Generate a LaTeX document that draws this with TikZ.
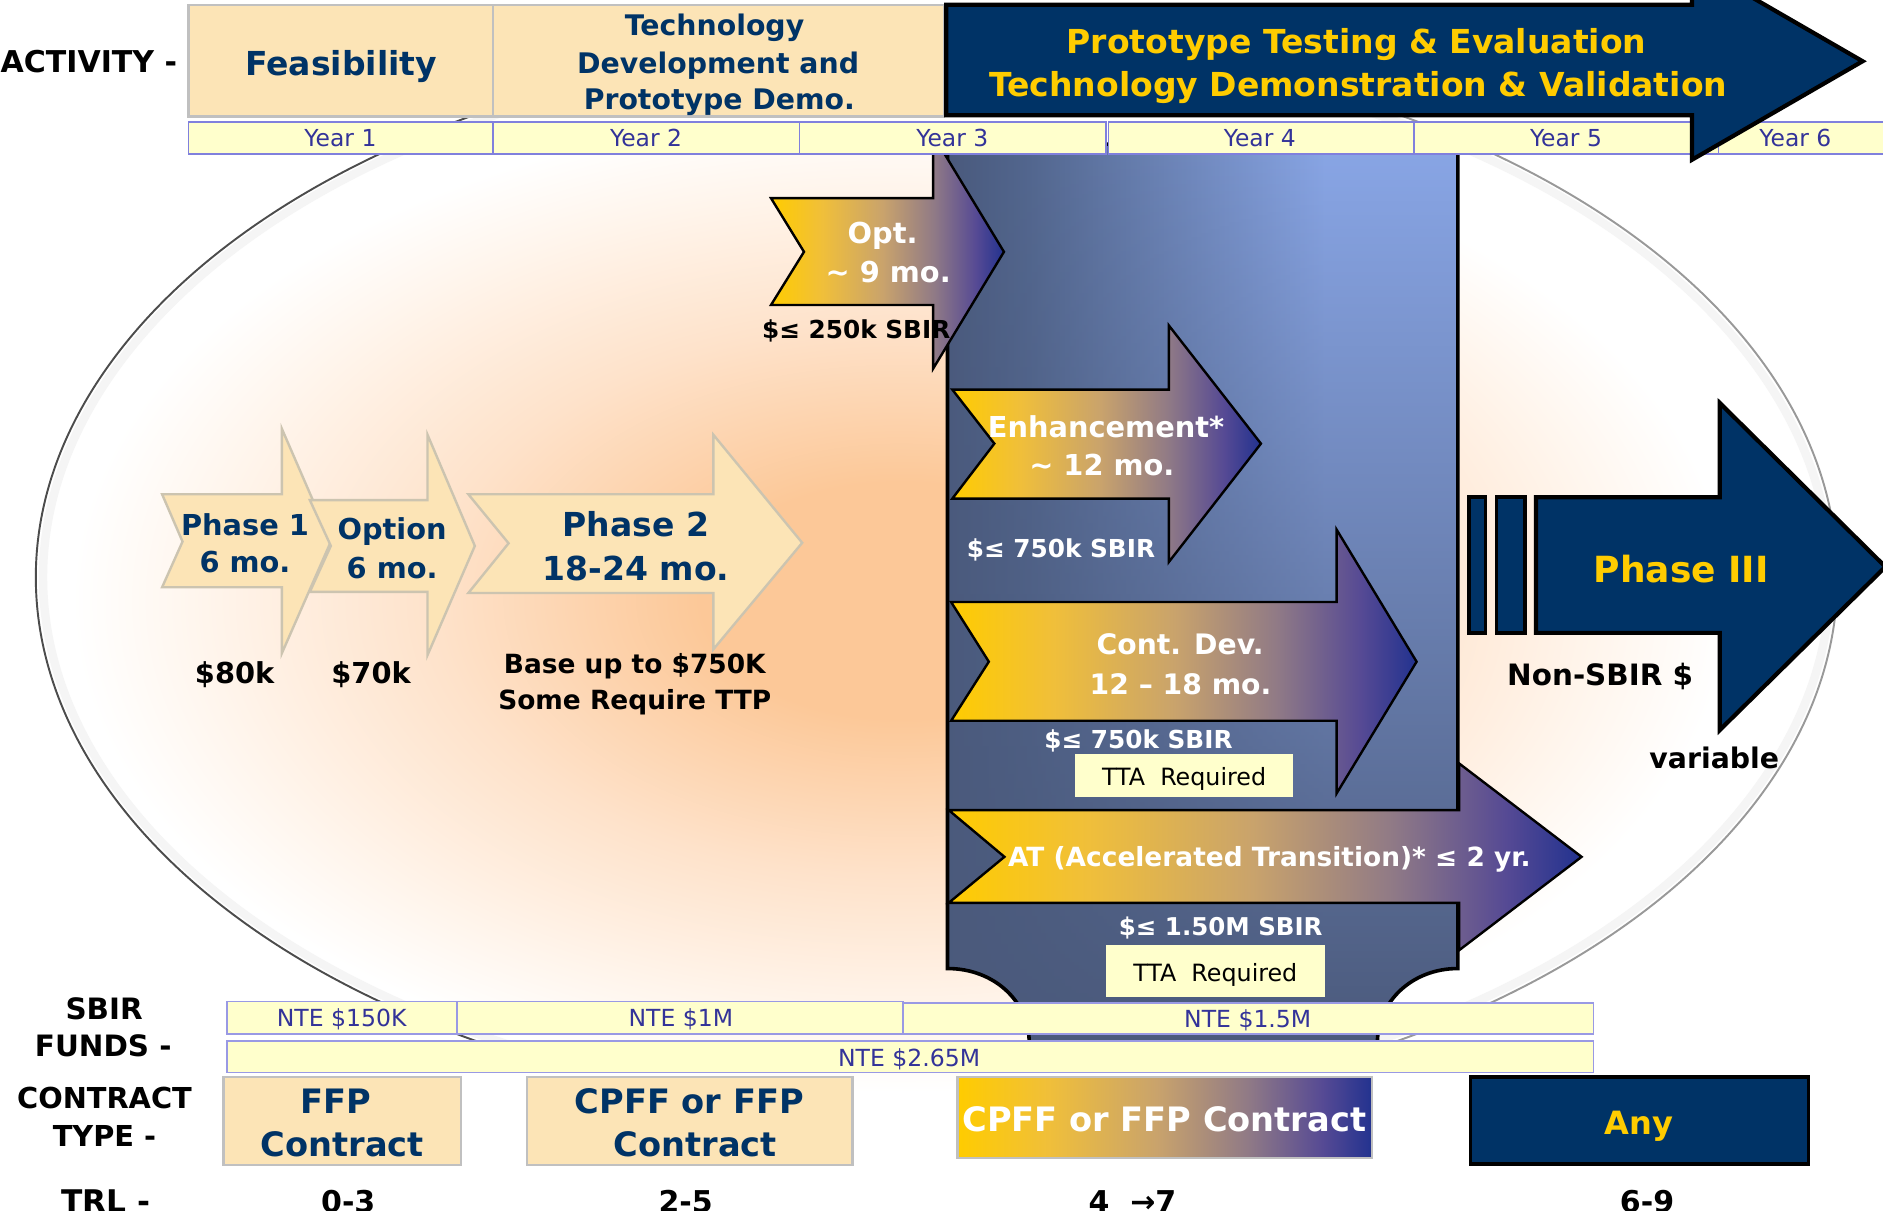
\documentclass[tikz,border=0pt]{standalone}
\usepackage{fontspec}
\setmainfont{DejaVu Sans}
\usetikzlibrary{fadings}
\definecolor{navy}{HTML}{003366}
\definecolor{gold}{HTML}{FFCC00}
\definecolor{tanf}{HTML}{FCE4B6}
\definecolor{tanline}{HTML}{CCC4B0}
\definecolor{hdrline}{HTML}{C0C0C0}
\definecolor{lyel}{HTML}{FFFFCC}
\definecolor{yline}{HTML}{8080DD}
\definecolor{ytext}{HTML}{333399}
\definecolor{boxL}{HTML}{4A5A7D}
\definecolor{boxLL}{HTML}{53678F}
\definecolor{boxR}{HTML}{89A6E6}
\definecolor{boxD}{HTML}{4B5A7C}
\definecolor{glowA}{HTML}{FCC898}
\definecolor{glowB}{HTML}{FEE2CA}
\definecolor{glowC}{HTML}{FFF5EC}
\definecolor{gnA}{HTML}{FFCC00}
\definecolor{gnB}{HTML}{F0BF3A}
\definecolor{gnC}{HTML}{C9A36C}
\definecolor{gnD}{HTML}{907A86}
\definecolor{gnE}{HTML}{564A94}
\definecolor{gnF}{HTML}{22328F}
\pgfdeclarehorizontalshading{goldnavy}{100bp}{color(0bp)=(gnA); color(25bp)=(gnA); color(36bp)=(gnB); color(49bp)=(gnC); color(60bp)=(gnD); color(69bp)=(gnE); color(75bp)=(gnF); color(100bp)=(gnF)}
\pgfdeclarehorizontalshading{boxsh}{100bp}{color(0bp)=(boxL); color(25bp)=(boxL); color(33bp)=(boxLL); color(62bp)=(boxR); color(75bp)=(boxR); color(100bp)=(boxR)}
\pgfdeclareradialshading{glow}{\pgfpoint{0bp}{0bp}}{color(0bp)=(glowA); color(6bp)=(glowA); color(14bp)=(glowB); color(21bp)=(glowC); color(25bp)=(white); color(50bp)=(white)}
\newcommand\cboxpath{(789,120) -- (1214,120) -- (1214,806.5) .. controls (1176,806.5) and (1147,834) .. (1147,868) -- (857,868) .. controls (857,834) and (828,806.5) .. (789,806.5) -- cycle}
\begin{document}
\begin{tikzpicture}[x=1pt,y=-1pt,
  tb/.style={font=\bfseries\fontsize{#1}{#1}\selectfont, inner sep=0pt, anchor=base},
  tr/.style={font=\fontsize{#1}{#1}\selectfont, inner sep=0pt, anchor=base},
  tanarrow/.style={fill=tanf, draw=tanline, line width=2pt, line join=miter},
  gradarrow/.style={shade, shading=goldnavy, draw=black, line width=2pt, line join=miter},
  navyshape/.style={fill=navy, draw=black, line width=3.5pt, line join=miter},
  yearcell/.style={fill=lyel, draw=yline, line width=1.5pt},
  ntecell/.style={fill=lyel, draw=yline!80, line width=1.3pt},
  hdrbox/.style={fill=tanf, draw=hdrline, line width=2pt},
  ttabox/.style={fill=lyel},
  rim/.style={line width=1.6pt},
]
\useasboundingbox (0,0) rectangle (1568,1008);
\clip (0,0) rectangle (1568,1008);
\fill[white] (0,0) rectangle (1568,1008);

% ellipse glow
\begin{scope}
  \clip (780,481) ellipse (750 and 449);
  \shade[shading=glow] (750,500) ellipse (690 and 410);
\end{scope}
% ellipse rim: soft inner band, darker left arc, lighter right arc
\draw[black!4, line width=7pt] (780,481) ++(115:744 and 443) arc[start angle=115, end angle=425, x radius=744, y radius=443];
\draw[rim, black!70] (780,481) ++(115:750 and 449) arc[start angle=115, end angle=265, x radius=750, y radius=449];
\draw[rim, black!40] (780,481) ++(265:750 and 449) arc[start angle=265, end angle=425, x radius=750, y radius=449];

% left arrows
\draw[tanarrow] (135,411.6) -- (234.7,411.6) -- (234.7,357) -- (275.5,451) -- (234.7,544) -- (234.7,489) -- (135,489) -- (152,451) -- cycle;
\draw[tanarrow] (258,416.4) -- (356,416.4) -- (356,362) -- (395.4,454.6) -- (356,545.5) -- (356,492.9) -- (258,492.9) -- (275.5,454.6) -- cycle;
\draw[tanarrow] (390,411.6) -- (594,411.6) -- (594,362) -- (668,452) -- (594,540.7) -- (594,493.8) -- (390,493.8) -- (423.5,452.4) -- cycle;
\node[tb=24, text=navy] (p1a) at (204,446) {Phase 1};
\node[tb=24, text=navy] (p1b) at (204,477) {6 mo.};
\node[tb=24, text=navy] (opa) at (326.5,449) {Option};
\node[tb=24, text=navy] (opb) at (326.5,481.5) {6 mo.};
\node[tb=27.5, text=navy] (p2a) at (529.6,446.5) {Phase 2};
\node[tb=27.5, text=navy] (p2b) at (529.6,483) {18-24 mo.};
\node[tb=24] (c80) at (195.4,569) {\$80k};
\node[tb=24] (c70) at (309,569) {\$70k};
\node[tb=22] (basea) at (528.6,560.5) {Base up to \$750K};
\node[tb=22] (baseb) at (528.6,591) {Some Require TTP};

% central box
\path[shading=boxsh, shade] \cboxpath;
\fill[boxD, path fading=north] \cboxpath;
\draw[black, line width=3pt] \cboxpath;

% gradient arrows
\path[gradarrow] (642,165) -- (777,165) -- (777,112.5) -- (836,209.7) -- (777,307) -- (777,254) -- (642,254) -- (669.5,209.7) -- cycle;
\path[gradarrow] (793,324.4) -- (973.3,324.4) -- (973.3,271) -- (1050,369.4) -- (973.3,468) -- (973.3,415.2) -- (793,415.2) -- (828,369.4) -- cycle;
\path[gradarrow] (792,501.3) -- (1113,501.3) -- (1113,441) -- (1179.6,551) -- (1113,660.7) -- (1113,600.2) -- (792,600.2) -- (823.4,551) -- cycle;
\path[gradarrow] (790,674.6) -- (1215,674.6) -- (1215,635.7) -- (1317,713.5) -- (1215,791.3) -- (1215,751.8) -- (790,751.8) -- (836.4,713.5) -- cycle;

\node[tb=24, text=white] (opta) at (735,203) {Opt.};
\node[tb=24, text=white] (optb) at (739.6,235) {\textasciitilde\ 9 mo.};
\node[tb=20.6] (optc) at (713,282) {\$≤ 250k SBIR};
\node[tb=24, text=white] (enha) at (921,364) {Enhancement*};
\node[tb=24, text=white] (enhb) at (917.5,396) {\textasciitilde\ 12 mo.};
\node[tb=20.6, text=white] (enhc) at (883.5,464) {\$≤ 750k SBIR};
\node[tb=23.5, text=white] (cda) at (982.7,545) {Cont. Dev.};
\node[tb=23.5, text=white] (cdb) at (983,578) {12 – 18 mo.};
\node[tb=20.6, text=white] (cdc) at (948,623) {\$≤ 750k SBIR};
\fill[ttabox] (895,628) rectangle (1077,663.5);
\node[tr=19.8] (tta1) at (986,653.8) {TTA~~Required};
\node[tb=22, text=white] (ata) at (1057,721.8) {AT (Accelerated Transition)* ≤ 2 yr.};
\node[tb=20.4, text=white] (atb) at (1016.5,779) {\$≤ 1.50M SBIR};
\fill[ttabox] (921,787) rectangle (1103,830);
\node[tr=19.8] (tta2) at (1012,817.6) {TTA~~Required};

% Phase III
\path[navyshape, line width=3pt] (1223,414) rectangle (1237,527);
\path[navyshape, line width=3pt] (1246,414) rectangle (1270,527);
\path[navyshape] (1279,414) -- (1432,414) -- (1432,335.5) -- (1570,472) -- (1432,608) -- (1432,527) -- (1279,527) -- cycle;
\node[tb=30, text=gold] (ph3) at (1400,485) {Phase III};
\node[tb=24.5] (nsb) at (1332.5,571) {Non-SBIR \$};
\node[tb=23.6] (var) at (1427.5,640) {variable};

% header
\path[hdrbox] (157,4) rectangle (410.7,97);
\path[hdrbox] (410.7,4) rectangle (786,97);
\node[tb=25] (act) at (74,60) {ACTIVITY -};
\node[tb=27.5, text=navy] (feas) at (284,63) {Feasibility};
\node[tb=23.6, text=navy] (tda) at (595,29.5) {Technology};
\node[tb=23.6, text=navy] (tdb) at (598,61.5) {Development and};
\node[tb=23.6, text=navy] (tdc) at (599,91.5) {Prototype Demo.};

\path[yearcell] (157,101.4) rectangle (410.7,128.3);
\path[yearcell] (410.7,101.4) rectangle (665.8,128.3);
\path[yearcell] (665.8,101.4) rectangle (921,128.3);
\path[yearcell] (923,101.4) rectangle (1177.4,128.3);
\path[yearcell] (1177.4,101.4) rectangle (1431,128.3);
\path[yearcell] (1431,101.4) rectangle (1580,128.3);
\node[tr=19.5, text=ytext] (y1) at (283.5,122.2) {Year 1};
\node[tr=19.5, text=ytext] (y2) at (538,122.2) {Year 2};
\node[tr=19.5, text=ytext] (y3) at (793,122.2) {Year 3};
\node[tr=19.5, text=ytext] (y4) at (1049,122.2) {Year 4};
\node[tr=19.5, text=ytext] (y5) at (1304,122.2) {Year 5};
\node[tr=19.5, text=ytext] (y6) at (1495,122.2) {Year 6};

\path[navyshape] (788,4) -- (1409,4) -- (1409,-31) -- (1551,51) -- (1409,133) -- (1409,96) -- (788,96) -- cycle;
\node[tb=27.5, text=gold] (pta) at (1129.6,44.5) {Prototype Testing \& Evaluation};
\node[tb=27.5, text=gold] (ptb) at (1131,80.5) {Technology Demonstration \& Validation};

% SBIR funds
\path[ntecell] (189,834) rectangle (380,861);
\path[ntecell] (381,834) rectangle (752,861);
\path[ntecell] (752,835) rectangle (1327,861);
\path[ntecell] (189,866.7) rectangle (1327,893);
\node[tr=19.6, text=ytext] (nte1) at (284.5,855) {NTE \$150K};
\node[tr=19.6, text=ytext] (nte2) at (567,855) {NTE \$1M};
\node[tr=19.6, text=ytext] (nte3) at (1039,856) {NTE \$1.5M};
\node[tr=19.6, text=ytext] (nte4) at (757,888) {NTE \$2.65M};
\node[tb=24.5] (sbir) at (86.7,849) {SBIR};
\node[tb=24.5] (funds) at (86,880) {FUNDS -};

% contract type
\node[tb=24] (ctra) at (87,923) {CONTRACT};
\node[tb=24] (ctrb) at (87,955) {TYPE -};
\path[hdrbox] (186,897) rectangle (383.7,970);
\path[hdrbox] (438.8,897) rectangle (710,970);
\path[shade, shading=goldnavy, draw=hdrline, line width=2pt] (797.4,897) rectangle (1142.7,964.4);
\path[navyshape, line width=3pt] (1224.5,896.7) rectangle (1506,969.4);
\node[tb=28, text=navy] (ffpa) at (280,927) {FFP};
\node[tb=28, text=navy] (ffpb) at (285,963) {Contract};
\node[tb=28, text=navy] (cpa) at (574,927) {CPFF or FFP};
\node[tb=28, text=navy] (cpb) at (579,963) {Contract};
\node[tb=28, text=white] (cpg) at (969.5,942.5) {CPFF or FFP Contract};
\node[tb=26.7, text=gold] (any) at (1365,945) {Any};

% TRL
\node[tb=26] (trl) at (88,1010) {TRL -};
\node[tb=25] (trl1) at (290,1010) {0-3};
\node[tb=25] (trl2) at (571,1010) {2-5};
\node[tb=25] (trl3) at (943,1010) {4~~→7};
\node[tb=25] (trl4) at (1371.5,1010) {6-9};
\end{tikzpicture}
\end{document}
